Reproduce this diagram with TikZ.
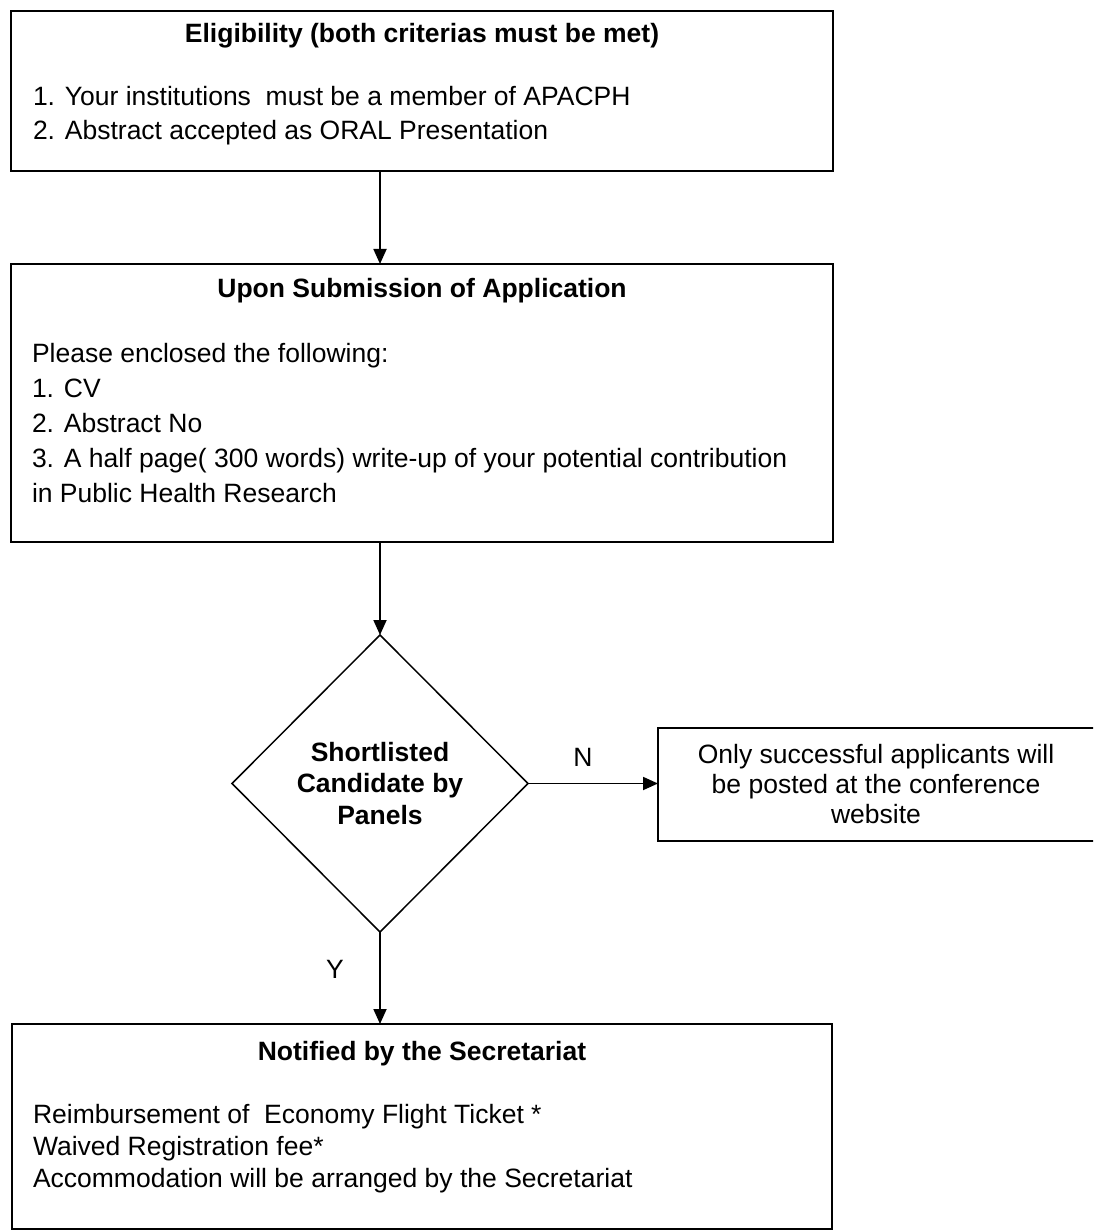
\documentclass[tikz,border=0pt]{standalone}
\usepackage{fontspec}
\setmainfont{Liberation Sans}
\usetikzlibrary{arrows.meta,shapes.geometric}
\begin{document}
\begin{tikzpicture}[x=1pt,y=-1pt,
  box/.style={draw, line width=2pt, rectangle, inner sep=0pt, outer sep=0pt},
  dia/.style={draw, line width=1.5pt, diamond, inner sep=0pt, outer sep=0pt},
  txt/.style={inner sep=0pt, outer sep=0pt, font=\fontsize{26.5}{35}\selectfont},
  ttl/.style={inner sep=0pt, outer sep=0pt, font=\fontsize{26.5}{35}\selectfont\bfseries},
  arr/.style={line width=1.8pt, -{Triangle[length=15pt,width=13pt]}}]
\useasboundingbox (0,0) rectangle (1093,1230);
\clip (0,0) rectangle (1093,1230);
\fill[white] (0,0) rectangle (1093,1230);
% boxes
\node[box, minimum width=822pt, minimum height=160pt] (b1) at (422,91) {};
\node[box, minimum width=822pt, minimum height=278pt] (b2) at (422,403) {};
\node[dia, minimum width=296pt, minimum height=297pt] (d) at (380,783.5) {};
\node[box, minimum width=442pt, minimum height=113pt] (b3) at (879,784.5) {};
\node[box, minimum width=820pt, minimum height=205pt] (b4) at (422,1126.5) {};
% box 1 text
\node[ttl, anchor=base] (t1) at (422,43) {Eligibility (both criterias must be met)};
\node[txt, anchor=base west] (l11) at (33,106) {1. Your institutions\ \ must be a member of APACPH};
\node[txt, anchor=base west] (l12) at (33,140) {2. Abstract accepted as ORAL Presentation};
% box 2 text
\node[ttl, anchor=base] (t2) at (422,298) {Upon Submission of Application};
\node[txt, anchor=base west] (l21) at (32,362) {Please enclosed the following:};
\node[txt, anchor=base west] (l22) at (32,397) {1. CV};
\node[txt, anchor=base west] (l23) at (32,432) {2. Abstract No};
\node[txt, anchor=base west] (l24) at (32,467) {3. A half page( 300 words) write-up of your potential contribution};
\node[txt, anchor=base west] (l25) at (32,502) {in Public Health Research};
% diamond text
\node[ttl, anchor=base] (dt1) at (380,761) {Shortlisted};
\node[ttl, anchor=base] (dt2) at (380,792) {Candidate by};
\node[ttl, anchor=base] (dt3) at (380,824) {Panels};
% box 3 text
\node[txt, anchor=base] (l31) at (876,763) {Only successful applicants will};
\node[txt, anchor=base] (l32) at (876,793) {be posted at the conference};
\node[txt, anchor=base] (l33) at (876,823) {website};
% box 4 text
\node[ttl, anchor=base] (t4) at (422,1060) {Notified by the Secretariat};
\node[txt, anchor=base west] (l41) at (33,1123) {Reimbursement of\ \ Economy Flight Ticket *};
\node[txt, anchor=base west] (l42) at (33,1155) {Waived Registration fee*};
\node[txt, anchor=base west] (l43) at (33,1187) {Accommodation will be arranged by the Secretariat};
% connectors
\draw[arr] (b1.south -| d.north) -- (b2.north -| d.north);
\draw[arr] (b2.south -| d.north) -- (d.north);
\draw[arr] (d.east) -- (b3.west |- d.east);
\draw[arr] (d.south) -- (b4.north -| d.south);
\node[txt, anchor=base] (n) at (583,766) {N};
\node[txt, anchor=base] (y) at (335,978) {Y};
\end{tikzpicture}
\end{document}
